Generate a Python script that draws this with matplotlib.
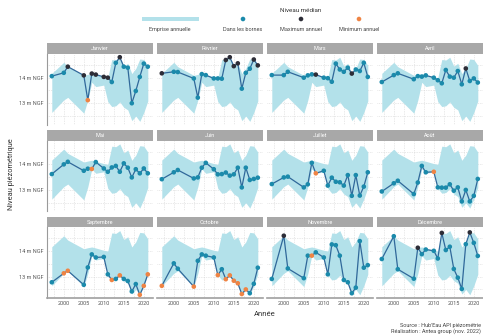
import numpy as np
import matplotlib
matplotlib.use("Agg")
import matplotlib.pyplot as plt
from matplotlib.patches import Rectangle

plt.rcParams['font.family'] = ['Roboto', 'DejaVu Sans']

# Années disponibles (médiane mensuelle du niveau piézométrique, m NGF)
annees = [1997, 2000, 2001, 2005, 2006, 2007, 2008, 2010, 2011, 2012,
          2013, 2014, 2015, 2016, 2017, 2018, 2019, 2020, 2021]

mois = ["Janvier", "Février", "Mars", "Avril", "Mai", "Juin",
        "Juillet", "Août", "Septembre", "Octobre", "Novembre", "Décembre"]

janvier = [14.06, 14.19, 14.43, 14.09, 13.12, 14.16, 14.12, 14.03, 14.00, 13.83,
           14.58, 14.80, 14.43, 14.39, 13.00, 13.48, 14.03, 14.55, 14.43]
fevrier = [14.17, 14.23, 14.22, 13.97, 13.22, 14.14, 14.10, 13.97, 13.97, 13.96,
           14.69, 14.80, 14.45, 14.56, 13.57, 14.19, 14.35, 14.71, 14.48]
mars = [14.10, 14.10, 14.23, 14.00, 14.09, 14.13, 14.12, 14.00, 13.98, 13.84,
        14.55, 14.32, 14.23, 14.39, 14.16, 14.32, 14.26, 14.58, 14.03]
avril = [13.83, 14.10, 14.17, 13.94, 14.06, 14.04, 14.09, 14.00, 13.90, 13.78,
         14.30, 14.04, 14.00, 14.26, 13.74, 14.36, 13.87, 13.97, 13.81]
mai = [13.62, 14.00, 14.10, 13.75, 13.83, 13.82, 14.09, 13.84, 13.71, 13.88,
       13.94, 13.71, 14.04, 13.87, 13.49, 13.81, 13.65, 13.84, 13.65]
juin = [13.42, 13.69, 13.78, 13.45, 13.49, 13.87, 14.06, 13.81, 13.61, 13.62,
        13.68, 13.56, 13.61, 13.87, 13.10, 13.87, 13.39, 13.43, 13.48]
juillet = [13.23, 13.49, 13.52, 13.10, 13.22, 14.06, 13.65, 13.75, 13.17, 13.48,
           13.32, 13.30, 13.17, 13.58, 12.77, 13.58, 12.78, 13.13, 13.69]
aout = [12.94, 13.26, 13.36, 12.84, 13.29, 13.94, 13.69, 13.71, 13.10, 13.09,
        13.09, 13.22, 12.97, 13.10, 12.55, 13.00, 12.55, 12.77, 13.43]
septembre = [12.78, 13.13, 13.23, 12.68, 13.36, 13.87, 13.75, 13.77, 13.09, 12.87,
             12.91, 13.05, 12.91, 12.83, 12.42, 12.71, 12.29, 12.64, 13.09]
octobre = [12.64, 13.52, 13.31, 12.61, 13.62, 13.87, 13.82, 13.75, 13.06, 13.29,
           12.90, 13.05, 12.84, 12.74, 12.32, 12.50, 12.35, 12.72, 13.35]
novembre = [12.91, 14.60, 13.32, 12.94, 13.82, 13.82, 13.95, 13.75, 13.09, 14.26,
            14.23, 13.82, 12.87, 12.78, 12.35, 12.57, 14.39, 13.35, 13.45]
decembre = [13.69, 14.58, 13.29, 12.92, 14.13, 13.88, 14.06, 14.01, 13.71, 14.71,
            14.04, 14.17, 13.30, 12.96, 12.52, 14.27, 14.73, 14.32, 13.81]

x_ticks = [2000, 2005, 2010, 2015, 2020]
y_ticks = [13, 14]
y_labels = ["13 m NGF", "14 m NGF"]

niveaux = np.array([janvier, fevrier, mars, avril, mai, juin, juillet, aout,
                    septembre, octobre, novembre, decembre])
ann = np.array(annees, dtype=float)

# Emprise annuelle : min / max des médianes mensuelles de chaque année
ann_min = niveaux.min(axis=0)
ann_max = niveaux.max(axis=0)

C_RUBAN = "#b3e1ea"
C_LIGNE = "#30689a"
C_BORNES = "#1b8aab"
C_MAX = "#2d2d37"
C_MIN = "#ef8444"
C_TXT = "#555555"

W, H = 483, 335
fig = plt.figure(figsize=(W / 100, H / 100), dpi=100)


def fx(px):
    return px / W


def fy(py):
    return 1 - py / H


panel_w, panel_h, strip_h = 105.6, 70.6, 10.7
lo, hi = ann_min.min(), ann_max.max()
pad_y = 0.05 * (hi - lo)
pad_x = 0.05 * (ann.max() - ann.min())

for i, nom in enumerate(mois):
    r, c = divmod(i, 4)
    left = 47 + 110 * c
    top = 54 + 86.7 * r
    ax = fig.add_axes([fx(left), fy(top + panel_h), panel_w / W, panel_h / H])
    vals = niveaux[i]

    ax.fill_between(ann, ann_min, ann_max, color=C_RUBAN, lw=0, zorder=1)
    ax.plot(ann, vals, color=C_LIGNE, lw=0.9, zorder=3)
    couleurs = np.where(np.isclose(vals, ann_max), C_MAX,
                        np.where(np.isclose(vals, ann_min), C_MIN, C_BORNES))
    ax.scatter(ann, vals, c=couleurs, s=11, linewidths=0, zorder=4)

    ax.set_xlim(ann.min() - pad_x, ann.max() + pad_x)
    ax.set_ylim(lo - pad_y, hi + pad_y)
    ax.set_xticks(x_ticks)
    ax.set_xticks(np.arange(1997.5, 2022, 5), minor=True)
    ax.set_yticks(y_ticks)
    ax.set_yticks([12.5, 13.5, 14.5], minor=True)
    ax.grid(which='both', color='#d4d4d4', linestyle=(0, (1, 1.5)), lw=0.5, zorder=0)
    ax.set_axisbelow(True)
    ax.tick_params(which='both', length=0, labelsize=4, labelcolor=C_TXT, pad=2.5)

    if r == 2:
        ax.set_xticklabels([str(t) for t in x_ticks])
    else:
        ax.set_xticklabels([])
    if c == 0:
        ax.set_yticklabels(y_labels)
    else:
        ax.set_yticklabels([])

    for s in ax.spines.values():
        s.set_visible(False)
    if c == 0:
        ax.spines['left'].set_visible(True)
        ax.spines['left'].set_color('#9a9a9a')
        ax.spines['left'].set_linewidth(0.8)
    if r == 2:
        ax.spines['bottom'].set_visible(True)
        ax.spines['bottom'].set_color('#a0a0a0')
        ax.spines['bottom'].set_linewidth(1.2)

    sh = strip_h / panel_h
    ax.add_patch(Rectangle((0, 1), 1, sh, transform=ax.transAxes, clip_on=False,
                           fc='#a8a8a8', ec='none'))
    ax.text(0.5, 1 + sh / 2, nom, transform=ax.transAxes, ha='center', va='center',
            fontsize=4, color='white')

# Titres d'axes
fig.text(fx(12), fy(174), "Niveau piézométrique", rotation=90, ha='center', va='center',
         fontsize=5.3, color='#333333')
fig.text(fx(265), fy(314), "Année", ha='center', va='center', fontsize=5.5, color='#333333')

# Légende
leg = fig.add_axes([0, 0, 1, 1], zorder=5)
leg.set_xlim(0, W)
leg.set_ylim(H, 0)
leg.axis('off')
leg.add_patch(Rectangle((142, 17.3), 57, 3.4, fc=C_RUBAN, ec='none'))
leg.scatter([243, 301, 359], [19, 19, 19], c=[C_BORNES, C_MAX, C_MIN], s=11, linewidths=0)
fig.text(fx(301), fy(10), "Niveau médian", ha='center', va='center', fontsize=4.5, color='#333333')
for xc, lab in [(170, "Emprise annuelle"), (243, "Dans les bornes"),
                (301, "Maximum annuel"), (359, "Minimum annuel")]:
    fig.text(fx(xc), fy(29.5), lab, ha='center', va='center', fontsize=4, color='#444444')

# Source
fig.text(fx(481), fy(325), "Source : Hub'Eau API piézométrie", ha='right', va='center',
         fontsize=4, color='#444444')
fig.text(fx(481), fy(331), "Réalisation : Antea group (nov. 2022)", ha='right', va='center',
         fontsize=4, color='#444444')

fig.savefig("out.png", dpi=100)
